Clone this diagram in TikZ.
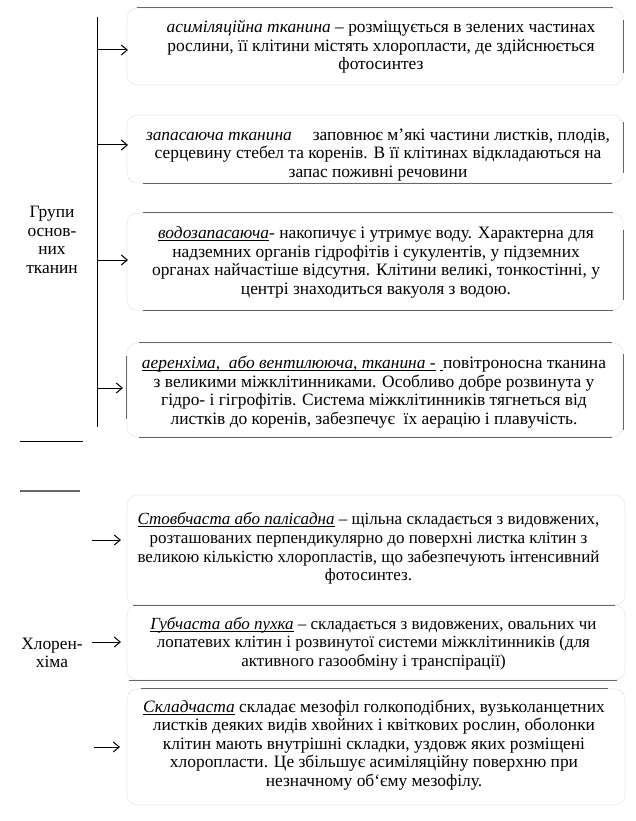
\documentclass[tikz,border=0pt]{standalone}
\usepackage{fontspec}
\setmainfont{Liberation Serif}
\usetikzlibrary{arrows.meta}
\newsavebox{\ulbox}
\newcommand{\myul}[1]{\leavevmode\sbox{\ulbox}{#1}\rlap{\rule[-2.4pt]{\wd\ulbox}{0.8pt}}\usebox{\ulbox}}
\begin{document}
\begin{tikzpicture}[x=1pt,y=-1pt,
  txt/.style={font=\fontsize{17.4}{18.6}\selectfont, align=center, inner sep=0pt},
  txtsm/.style={txt, font=\fontsize{17}{18.6}\selectfont},
  boxframe/.style={draw=black!7, line width=0.8pt, rounded corners=10pt, inner sep=0pt},
  boxedge/.style={draw=black!60, line width=1.4pt},
  plainline/.style={draw=black, line width=1pt},
  arr/.style={-{Straight Barb[length=6pt,width=10pt]}, line width=1pt}]
\useasboundingbox[fill=white] (0,0) rectangle (635,821);

% frames
\node[boxframe, minimum width=496pt, minimum height=77pt]  (b1) at (375,46.5) {};
\node[boxframe, minimum width=496pt, minimum height=68pt]  (b2) at (375,149) {};
\node[boxframe, minimum width=496pt, minimum height=97pt]  (b3) at (375,261.5) {};
\node[boxframe, minimum width=496pt, minimum height=94pt]  (b4) at (375,390) {};
\node[boxframe, minimum width=498pt, minimum height=110pt] (b5) at (376,550) {};
\node[boxframe, minimum width=498pt, minimum height=75pt]  (b6) at (376,642.5) {};
\node[boxframe, minimum width=498pt, minimum height=116pt] (b7) at (376,747) {};

% visible edges
\draw[boxedge] ([xshift=10pt]b1.north west) -- ([xshift=-10pt]b1.north east);
\draw[boxedge] ([yshift=-12pt]b1.north east) -- ([yshift=12pt]b1.south east);
\draw[boxedge] ([xshift=16pt]b2.south west) -- ([xshift=-11pt]b2.south east);
\draw[boxedge] ([yshift=-7pt]b2.north east) -- ([yshift=10pt]b2.south east);
\draw[boxedge] ([xshift=16pt]b3.north west) -- ([xshift=-10pt]b3.north east);
\draw[boxedge] ([xshift=16pt]b3.south west) -- ([xshift=-10pt]b3.south east);
\draw[boxedge] ([yshift=-17pt]b3.north east) -- ([yshift=10pt]b3.south east);
\draw[boxedge] ([xshift=12pt]b4.north west) -- ([xshift=-11pt]b4.north east);
\draw[boxedge] ([xshift=12pt]b4.south west) -- ([xshift=-11pt]b4.south east);
\draw[boxedge] ([yshift=-13pt]b4.north west) -- ([yshift=18pt]b4.south west);
\draw[boxedge] ([yshift=-11pt]b4.north east) -- ([yshift=7pt]b4.south east);
\draw[boxedge] ([xshift=6pt]b5.south west) -- ([xshift=-10pt]b5.south east);
\draw[boxedge] ([xshift=2pt]b6.south west) -- ([xshift=-8pt]b6.south east);
\draw[boxedge] ([xshift=14pt]b7.north west) -- ([xshift=-17pt]b7.north east);

% texts
\node[txt] (t1) at (381,47) {\textit{асиміляційна тканина} – розміщується в зелених частинах\\
рослини, її клітини містять хлоропласти, де здійснюється\\ фотосинтез};
\node[txt] (t2) at (378,155) {\textit{запасаюча тканина}\hspace{1.2em}заповнює м\char"27 які частини листків, плодів,\\
серцевину стебел та коренів. В її клітинах відкладаються на\\ запас поживні речовини};
\node[txt] (t3) at (376,262.5) {\myul{\textit{водозапасаюча}}- накопичує і утримує воду. Характерна для\\
надземних органів гідрофітів і сукулентів, у підземних\\
органах найчастіше відсутня. Клітини великі, тонкостінні, у\\
центрі знаходиться вакуоля з водою.};
\node[txt] (t4) at (374,392) {\myul{\textit{аеренхіма,\ \ або вентилююча, тканина}\ -}\ \myul{\vphantom{п}\hspace{3pt}}повітроносна тканина\\
з великими міжклітинниками. Особливо добре розвинута у\\
гідро- і гігрофітів. Система міжклітинників тягнеться від\\
листків до коренів, забезпечує\ \ їх аерацію і плавучість.};
\node[txtsm] (t5) at (368.5,548.5) {\myul{\textit{Стовбчаста або палісадна}} – щільна складається з видовжених,\\
розташованих перпендикулярно до поверхні листка клітин з\\
великою кількістю хлоропластів, що забезпечують інтенсивний\\
фотосинтез.};
\node[txtsm] (t6) at (373.5,643.5) {\myul{\textit{Губчаста або пухка}} – складається з видовжених, овальних чи\\
лопатевих клітин і розвинутої системи міжклітинників (для\\
активного газообміну і транспірації)};
\node[txt] (t7) at (374,745) {\myul{\textit{Складчаста}} складає мезофіл голкоподібних, вузьколанцетних\\
листків деяких видів хвойних і квіткових рослин, оболонки\\
клітин мають внутрішні складки, уздовж яких розміщені\\
хлоропласти. Це збільшує асиміляційну поверхню при\\
незначному об\char"60 єму мезофілу.};

% group labels
\node[txt] (g1) at (52,240) {Групи\\ основ-\\ них\\ тканин};
\node[txt] (g2) at (52,653) {Хлорен-\\ хіма};

% trunk and short lines
\coordinate (tt) at (97,17);
\coordinate (tb) at (97,427);
\draw[plainline] (tt) -- (tb);
\coordinate (s1a) at (20,441); \coordinate (s1b) at (83,441);
\draw[plainline] (s1a) -- (s1b);
\coordinate (s2a) at (20,491); \coordinate (s2b) at (80,491);
\draw[boxedge] (s2a) -- (s2b);

% arrows (upper group)
\coordinate (a1) at (97,50);   \coordinate (e1) at (128,50);
\coordinate (a2) at (97,145);  \coordinate (e2) at (128,145);
\coordinate (a3) at (97,260);  \coordinate (e3) at (128,260);
\coordinate (a4) at (97,388);  \coordinate (e4) at (123,388);
\draw[arr] (a1) -- (e1);
\draw[arr] (a2) -- (e2);
\draw[arr] (a3) -- (e3);
\draw[arr] (a4) -- (e4);

% arrows (lower group)
\coordinate (a5) at (92,540);  \coordinate (e5) at (121,540);
\coordinate (a6) at (92,642);  \coordinate (e6) at (121,642);
\coordinate (a7) at (94,747);  \coordinate (e7) at (120,747);
\draw[arr] (a5) -- (e5);
\draw[arr] (a6) -- (e6);
\draw[arr] (a7) -- (e7);
\end{tikzpicture}
\end{document}
